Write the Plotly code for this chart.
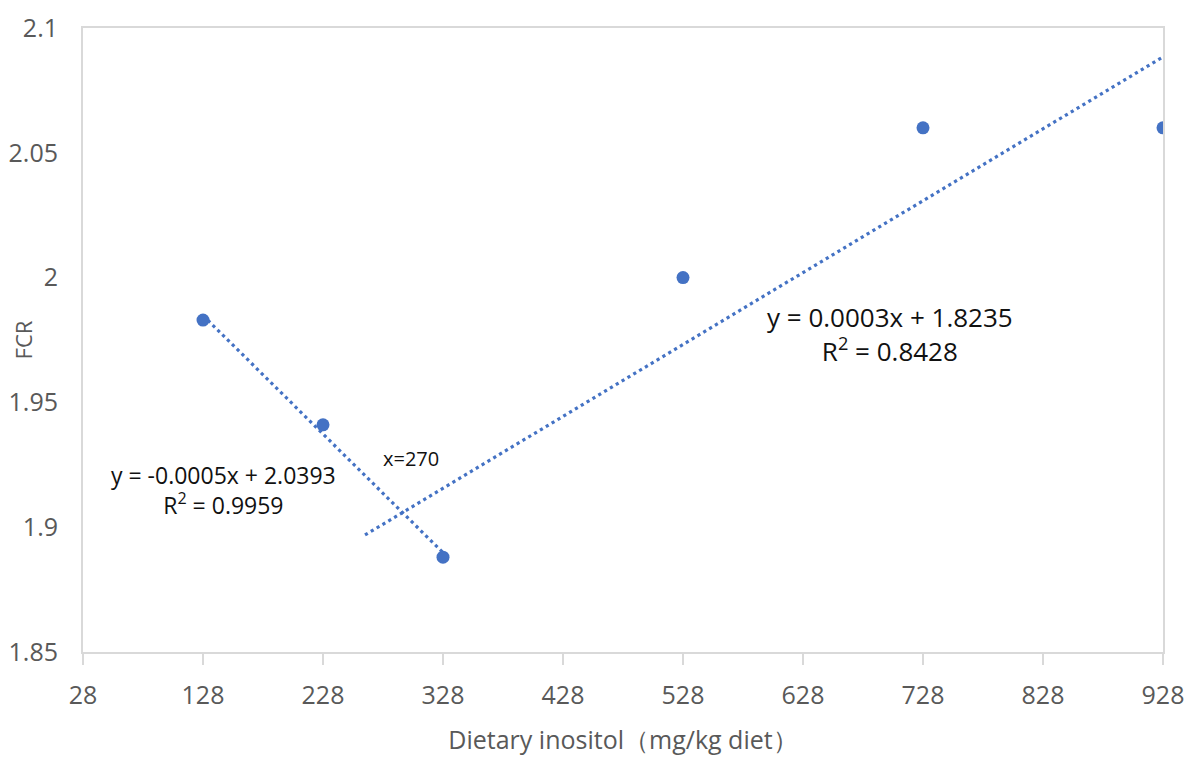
import numpy as np
import plotly.graph_objects as go

# Data
inositol = [128, 228, 328, 528, 728, 928]
fcr = [1.983, 1.941, 1.888, 2.000, 2.060, 2.060]

left_idx = [0, 1, 2]          # points used for the descending trend
right_idx = [2, 3, 4, 5]      # points used for the ascending trend
right_trend_start = 263       # backward forecast start of right trendline

x_ticks = [28, 128, 228, 328, 428, 528, 628, 728, 828, 928]
y_ticks = [1.85, 1.9, 1.95, 2.0, 2.05, 2.1]
y_tick_text = ["1.85", "1.9", "1.95", "2", "2.05", "2.1"]

eq_left = "y = -0.0005x + 2.0393<br>R<sup>2</sup> = 0.9959"
eq_right = "y = 0.0003x + 1.8235<br>R<sup>2</sup> = 0.8428"
cross_label = "x=270"

BLUE = "#4472C4"
GRID = "#d9d9d9"
TXT = "#595959"
FONT = "Open Sans"

x = np.array(inositol, dtype=float)
y = np.array(fcr, dtype=float)

lx, ly = x[left_idx], y[left_idx]
kl, bl = np.polyfit(lx, ly, 1)
left_line_x = np.array([lx.min(), lx.max()])
left_line_y = kl * left_line_x + bl

rx, ry = x[right_idx], y[right_idx]
kr, br = np.polyfit(rx, ry, 1)
right_line_x = np.array([right_trend_start, rx.max()])
right_line_y = kr * right_line_x + br

fig = go.Figure()
dash = "3.2px,3.6px"
fig.add_trace(go.Scatter(x=left_line_x, y=left_line_y, mode="lines",
                         line=dict(color=BLUE, width=3.2, dash=dash),
                         hoverinfo="skip", showlegend=False))
fig.add_trace(go.Scatter(x=right_line_x, y=right_line_y, mode="lines",
                         line=dict(color=BLUE, width=3.2, dash=dash),
                         hoverinfo="skip", showlegend=False))
fig.add_trace(go.Scatter(x=inositol, y=fcr, mode="markers",
                         marker=dict(color=BLUE, size=13),
                         showlegend=False))

fig.add_annotation(x=700.5, y=1.9774, text=eq_right, showarrow=False,
                   font=dict(family=FONT, size=26, color="#111111"), align="center")
fig.add_annotation(x=144.7, y=1.9149, text=eq_left, showarrow=False,
                   font=dict(family=FONT, size=23, color="#111111"), align="center")
fig.add_annotation(x=301.3, y=1.9277, text=cross_label, showarrow=False,
                   font=dict(family=FONT, size=20, color="#111111"))

fig.update_layout(
    width=1196, height=763,
    margin=dict(l=75, r=41, t=20, b=119),
    paper_bgcolor="white", plot_bgcolor="white",
    font=dict(family=FONT, color=TXT),
)
fig.update_xaxes(
    range=[28, 928], tickvals=x_ticks, ticktext=[str(v) for v in x_ticks],
    showgrid=False, zeroline=False, automargin=False,
    showline=True, linecolor=GRID, linewidth=2, mirror=True,
    ticks="outside", ticklen=11, tickcolor=GRID, tickwidth=2,
    ticklabelstandoff=9,
    tickfont=dict(family=FONT, size=25, color=TXT),
    title=dict(text="Dietary inositol（mg/kg diet）",
               font=dict(family=FONT, size=25, color=TXT), standoff=21),
)
fig.update_yaxes(
    range=[1.85, 2.1], tickvals=y_ticks, ticktext=y_tick_text,
    showgrid=False, zeroline=False, automargin=False,
    showline=True, linecolor=GRID, linewidth=2, mirror=True,
    ticks="", ticklabelstandoff=18,
    tickfont=dict(family=FONT, size=25, color=TXT),
    title=dict(text="FCR", font=dict(family=FONT, size=22, color=TXT), standoff=4),
)

fig.write_html("out.html")
